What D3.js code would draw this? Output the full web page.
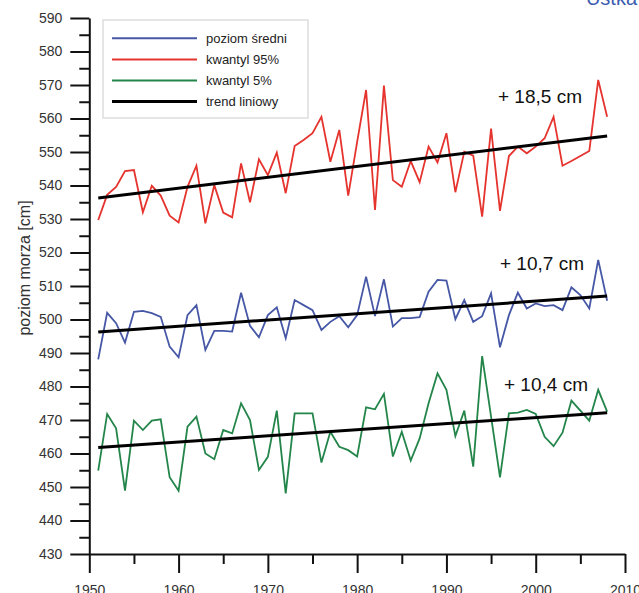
<!DOCTYPE html>
<html>
<head>
<meta charset="utf-8">
<script src="https://cdn.jsdelivr.net/npm/d3@7"></script>
<style>
  body { margin: 0; background: #fff; }
  svg { display: block; font-family: "Liberation Sans", Arial, Helvetica, sans-serif; }
</style>
</head>
<body>
<svg id="chart" width="639" height="593"></svg>
<script>
// years 1951-2008
var years = d3.range(1951, 2009);

var q95 = [529.7, 537.2, 539.6, 544.3, 544.6, 532.0, 539.9, 537.0, 531.0, 529.0,
  539.6, 545.9, 528.7, 540.1, 531.9, 530.5, 546.6, 535.0, 547.8, 543.1,
  549.8, 537.7, 551.8, 553.6, 555.6, 560.5, 547.1, 556.6, 537.0, 553.0,
  568.5, 532.7, 569.8, 541.6, 539.6, 547.3, 541.0, 551.6, 546.9, 555.6,
  538.0, 550.1, 548.9, 530.7, 557.0, 532.4, 548.8, 551.6, 549.6, 551.6,
  554.1, 560.5, 545.9, 547.3, 548.8, 550.3, 571.5, 560.5];

var mean = [488.1, 502.0, 498.9, 493.1, 502.3, 502.6, 501.9, 500.8, 491.9, 488.7,
  501.3, 504.3, 490.9, 496.6, 496.6, 496.4, 508.0, 498.1, 494.7, 501.3,
  503.6, 494.4, 505.8, 504.3, 502.8, 496.9, 499.3, 501.0, 497.7, 501.3,
  512.8, 501.0, 512.0, 497.9, 500.4, 500.4, 500.7, 508.3, 511.8, 511.6,
  500.1, 505.8, 499.3, 501.0, 507.8, 491.7, 501.3, 508.0, 503.3, 504.8,
  504.0, 504.3, 502.8, 509.6, 507.3, 503.3, 517.8, 505.6];

var q05 = [454.9, 471.8, 467.5, 448.9, 469.8, 467.0, 469.8, 470.2, 452.9, 448.9,
  468.0, 471.0, 460.0, 458.3, 467.0, 466.0, 475.0, 470.0, 455.1, 459.0,
  472.8, 448.1, 472.0, 472.0, 472.0, 457.3, 466.5, 462.0, 461.0, 459.1,
  473.8, 473.2, 477.8, 459.1, 466.5, 457.9, 464.5, 475.0, 483.9, 479.0,
  465.2, 472.8, 456.1, 489.1, 471.0, 452.9, 472.0, 472.2, 473.0, 471.8,
  465.0, 462.2, 466.2, 475.8, 472.8, 469.8, 479.0, 472.5];

// linear trend end points (1951, 2008)
var trend95 = [536.3, 554.8];
var trendMean = [496.3, 507.0];
var trend05 = [461.8, 472.2];

var trendLabels = ["+ 18,5 cm", "+ 10,7 cm", "+ 10,4 cm"];
var legendNames = ["poziom średni", "kwantyl 95%", "kwantyl 5%", "trend liniowy"];

var colRed = "#e5332e", colBlue = "#4657a6", colGreen = "#23854a";

var svg = d3.select("#chart");

var x = d3.scaleLinear().domain([1950, 2010]).range([89.3, 625]);
var y = d3.scaleLinear().domain([430, 590]).range([554, 18]);

// header fragment cut at the top
svg.append("text")
  .attr("x", 637).attr("y", 5)
  .attr("text-anchor", "end")
  .attr("font-size", 20)
  .attr("fill", "#3a5bb0")
  .text("Ustka");

// axes
var yAxis = svg.append("g").attr("transform", "translate(89.3,0)");
yAxis.call(d3.axisLeft(y).tickValues(d3.range(430, 591, 10)).tickSize(19).tickSizeOuter(0).tickPadding(8).tickFormat(d3.format("d")));
yAxis.append("g").call(d3.axisLeft(y).tickValues(d3.range(435, 590, 10)).tickSize(10).tickSizeOuter(0).tickFormat(""))
  .select(".domain").remove();

var xAxis = svg.append("g").attr("transform", "translate(0,554)");
xAxis.call(d3.axisBottom(x).tickValues(d3.range(1950, 2011, 10)).tickSize(19).tickSizeOuter(0).tickPadding(12).tickFormat(d3.format("d")));
xAxis.append("g").call(d3.axisBottom(x).tickValues(d3.range(1955, 2010, 10)).tickSize(10).tickSizeOuter(0).tickFormat(""))
  .select(".domain").remove();

svg.selectAll(".domain, .tick line").attr("stroke", "#111").attr("stroke-width", 2);
svg.selectAll(".tick text").attr("font-size", 14).attr("fill", "#333")
  .attr("font-family", "'Liberation Sans', Arial, sans-serif");

svg.append("text")
  .attr("transform", "translate(30,268) rotate(-90)")
  .attr("text-anchor", "middle")
  .attr("font-size", 16)
  .attr("fill", "#333")
  .text("poziom morza [cm]");

// series
var line = d3.line()
  .x(function(d, i) { return x(years[i]); })
  .y(function(d) { return y(d); });

[[q95, colRed], [mean, colBlue], [q05, colGreen]].forEach(function(s) {
  svg.append("path")
    .datum(s[0])
    .attr("d", line)
    .attr("fill", "none")
    .attr("stroke", s[1])
    .attr("stroke-width", 1.8)
    .attr("stroke-linejoin", "miter");
});

// trend lines
[trend95, trendMean, trend05].forEach(function(t) {
  svg.append("line")
    .attr("x1", x(1951)).attr("y1", y(t[0]))
    .attr("x2", x(2008)).attr("y2", y(t[1]))
    .attr("stroke", "#000")
    .attr("stroke-width", 3);
});

// trend labels
var labelPos = [[498, 103], [500, 270], [504, 391]];
trendLabels.forEach(function(txt, i) {
  svg.append("text")
    .attr("x", labelPos[i][0]).attr("y", labelPos[i][1])
    .attr("font-size", 19)
    .attr("fill", "#111")
    .text(txt);
});

// legend
var legend = svg.append("g");
legend.append("rect")
  .attr("x", 103).attr("y", 20).attr("width", 205).attr("height", 98)
  .attr("fill", "#fff").attr("stroke", "#ddd").attr("stroke-width", 1.5);

var legendCols = [colBlue, colRed, colGreen, "#000"];
legendNames.forEach(function(name, i) {
  var ly = 38.3 + i * 21.1;
  legend.append("line")
    .attr("x1", 112).attr("x2", 197)
    .attr("y1", ly).attr("y2", ly)
    .attr("stroke", legendCols[i])
    .attr("stroke-width", i == 3 ? 3 : 2);
  legend.append("text")
    .attr("x", 206).attr("y", ly + 4.5)
    .attr("font-size", 13)
    .attr("fill", "#222")
    .text(name);
});
</script>
</body>
</html>
